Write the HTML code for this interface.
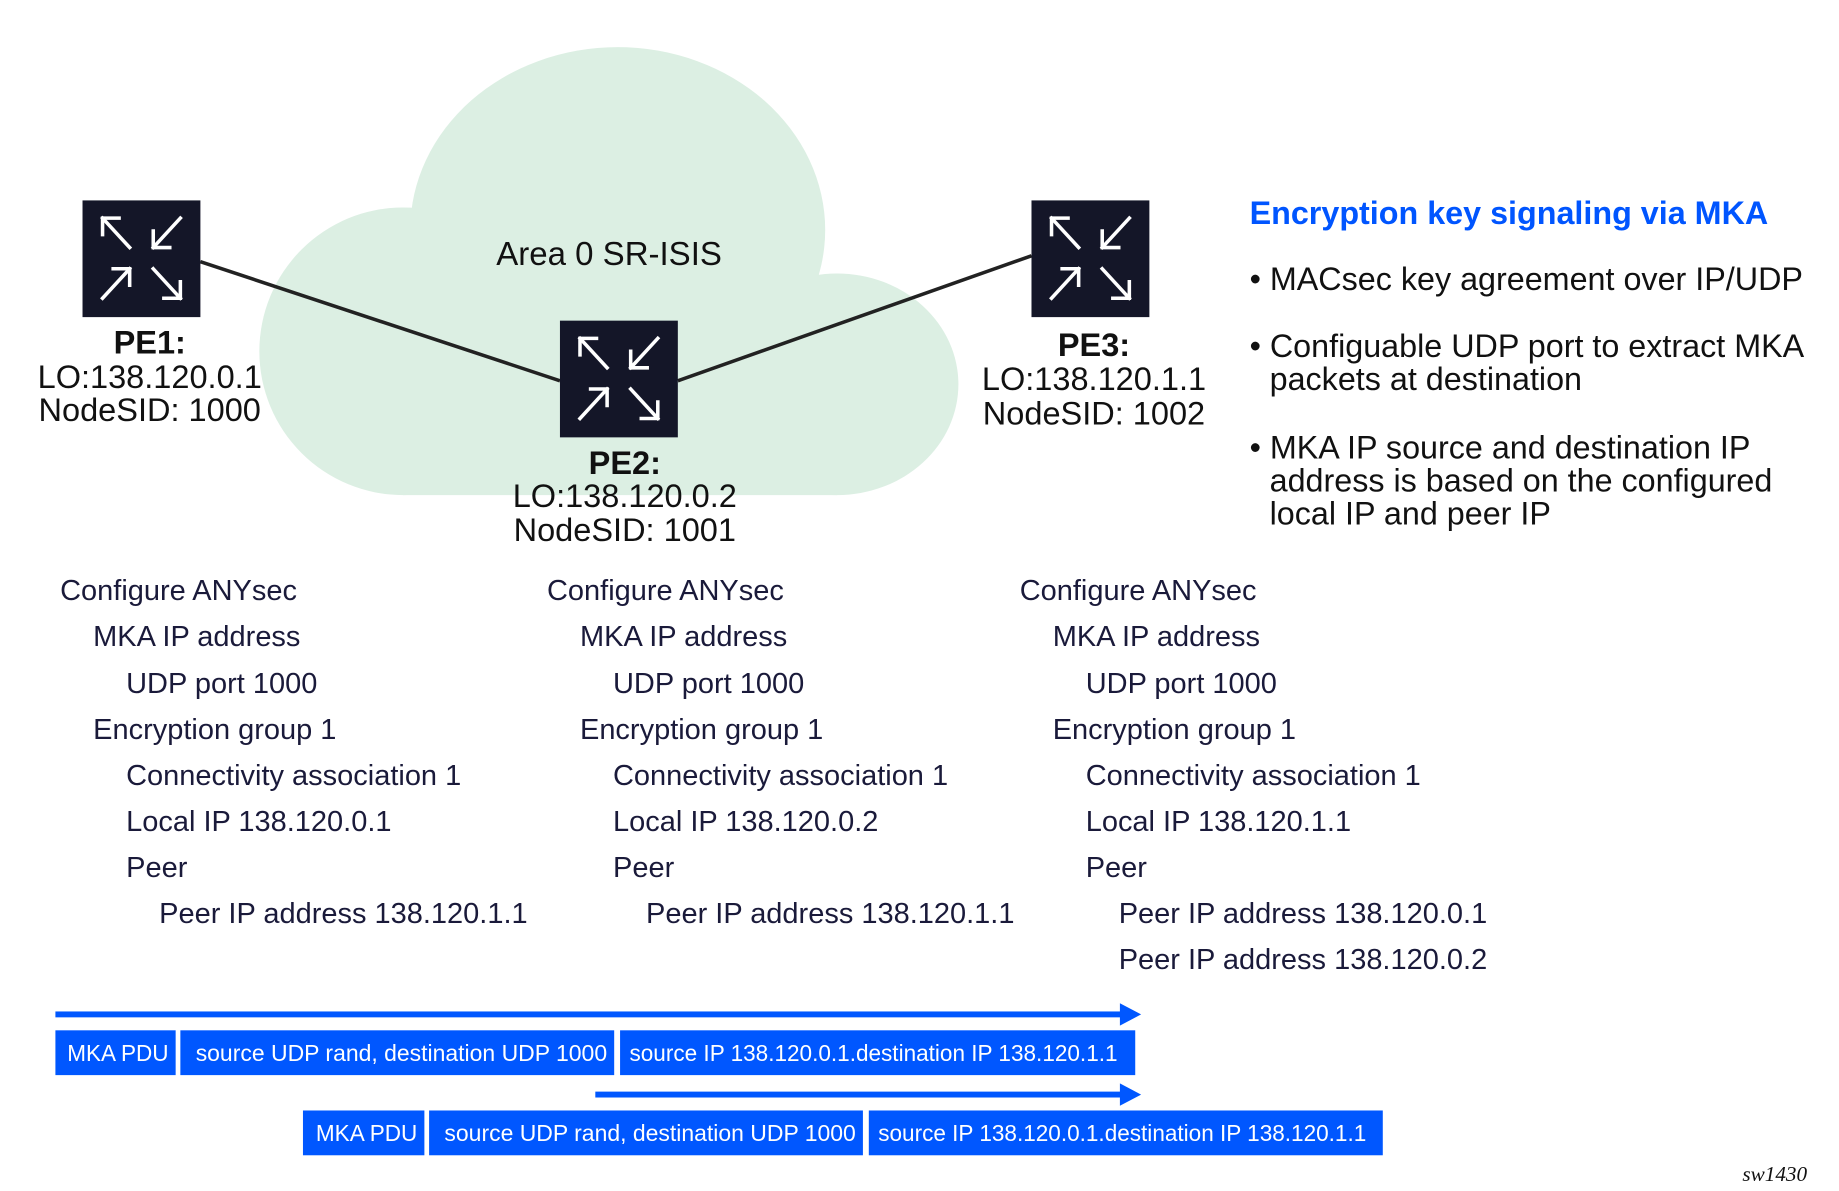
<!DOCTYPE html>
<html><head><meta charset="utf-8"><style>html,body{margin:0;padding:0;background:#fff}svg{display:block}</style></head><body>
<svg width="1839" height="1191" viewBox="0 0 1560 1010.3" xmlns="http://www.w3.org/2000/svg" font-family="Liberation Sans, sans-serif">
<defs>
<g id="rt">
<rect x="0" y="0" width="100" height="99" fill="#141628"/>
<g stroke="#fff" stroke-width="3" fill="none" stroke-linecap="square">
<line x1="40" y1="40" x2="17" y2="15"/><polyline points="17,29 17,15 31,15"/>
<line x1="83" y1="15" x2="60" y2="40"/><polyline points="60,26 60,40 74,40"/>
<line x1="17" y1="83" x2="40" y2="58"/><polyline points="26,58 40,58 40,72"/>
<line x1="60" y1="58" x2="83" y2="83"/><polyline points="83,69 83,83 69,83"/>
</g>
</g>
</defs>
<g fill="#dcefe3">
<ellipse cx="524" cy="195" rx="176" ry="155"/>
<ellipse cx="342" cy="298" rx="122" ry="122"/>
<ellipse cx="710" cy="326" rx="103" ry="94"/>
<rect x="342" y="240" width="368" height="180"/>
</g>
<text x="421" y="225" font-size="28" fill="#111">Area 0 SR-ISIS</text>
<g stroke="#222" stroke-width="3"><line x1="170" y1="222" x2="475" y2="323"/><line x1="575" y1="323" x2="875" y2="217"/></g>
<use href="#rt" x="70" y="170"/><use href="#rt" x="475" y="272"/><use href="#rt" x="875" y="170"/>
<g font-size="27.6" fill="#111" text-anchor="middle">
<text x="127" y="300" font-weight="bold">PE1:</text><text x="127" y="329">LO:138.120.0.1</text><text x="127" y="357">NodeSID: 1000</text>
<text x="530" y="402" font-weight="bold">PE2:</text><text x="530" y="430">LO:138.120.0.2</text><text x="530" y="459">NodeSID: 1001</text>
<text x="928" y="302" font-weight="bold">PE3:</text><text x="928" y="331">LO:138.120.1.1</text><text x="928" y="360">NodeSID: 1002</text>
</g>
<text x="1060" y="190" font-size="27.4" font-weight="bold" fill="#0055ff">Encryption key signaling via MKA</text>
<g font-size="27.4" fill="#111">
<text x="1060" y="246">• MACsec key agreement over IP/UDP</text>
<text x="1060" y="303">• Configuable UDP port to extract MKA</text>
<text x="1077" y="331">packets at destination</text>
<text x="1060" y="389">• MKA IP source and destination IP</text>
<text x="1077" y="417">address is based on the configured</text>
<text x="1077" y="445">local IP and peer IP</text>
</g>
<g font-size="24.6" fill="#1a1a3a">
<text x="51" y="509">Configure ANYsec</text><text x="79" y="548">MKA IP address</text><text x="107" y="588">UDP port 1000</text><text x="79" y="627">Encryption group 1</text><text x="107" y="666">Connectivity association 1</text><text x="107" y="705">Local IP  138.120.0.1</text><text x="107" y="744">Peer</text><text x="135" y="783">Peer IP address 138.120.1.1</text>
<text x="464" y="509">Configure ANYsec</text><text x="492" y="548">MKA IP address</text><text x="520" y="588">UDP port 1000</text><text x="492" y="627">Encryption group 1</text><text x="520" y="666">Connectivity association 1</text><text x="520" y="705">Local IP 138.120.0.2</text><text x="520" y="744">Peer</text><text x="548" y="783">Peer IP address 138.120.1.1</text>
<text x="865" y="509">Configure ANYsec</text><text x="893" y="548">MKA IP address</text><text x="921" y="588">UDP port 1000</text><text x="893" y="627">Encryption group 1</text><text x="921" y="666">Connectivity association 1</text><text x="921" y="705">Local IP 138.120.1.1</text><text x="921" y="744">Peer</text><text x="949" y="783">Peer IP address 138.120.0.1</text><text x="949" y="822">Peer IP address 138.120.0.2</text>
</g>
<g fill="#0057ff">
<rect x="47" y="858" width="905" height="5"/><polygon points="950,851 968,860.5 950,870"/>
<rect x="505" y="926" width="447" height="5"/><polygon points="950,919 968,928.5 950,938"/>
<rect x="47" y="874" width="102" height="38"/><rect x="153" y="874" width="368" height="38"/><rect x="526" y="874" width="437" height="38"/>
<rect x="257" y="942" width="103" height="38"/><rect x="364" y="942" width="368" height="38"/><rect x="737" y="942" width="436" height="38"/>
</g>
<g font-size="20" fill="#fff" font-family="Liberation Sans Narrow, Liberation Sans, sans-serif">
<text x="57" y="900" textLength="86" lengthAdjust="spacingAndGlyphs">MKA PDU</text>
<text x="166" y="900" textLength="349" lengthAdjust="spacingAndGlyphs">source UDP rand, destination UDP 1000</text>
<text x="534" y="900" textLength="414" lengthAdjust="spacingAndGlyphs">source IP 138.120.0.1.destination IP 138.120.1.1</text>
<text x="268" y="968" textLength="86" lengthAdjust="spacingAndGlyphs">MKA PDU</text>
<text x="377" y="968" textLength="349" lengthAdjust="spacingAndGlyphs">source UDP rand, destination UDP 1000</text>
<text x="745" y="968" textLength="414" lengthAdjust="spacingAndGlyphs">source IP 138.120.0.1.destination IP 138.120.1.1</text>
</g>
<text x="1478" y="1002" font-size="18" font-style="italic" font-family="Liberation Serif, serif" fill="#111">sw1430</text>
</svg>
</body></html>
